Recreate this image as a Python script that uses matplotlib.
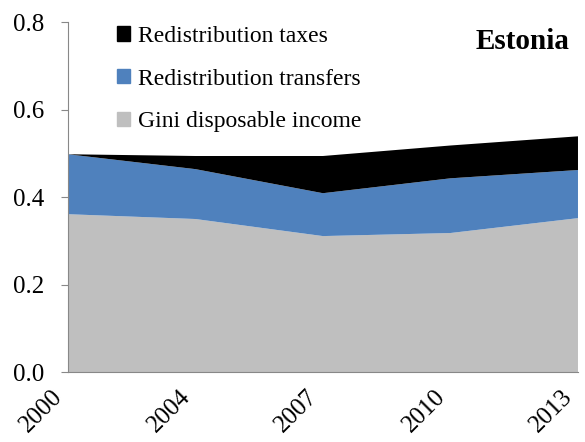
import numpy as np
import matplotlib
matplotlib.use('Agg')
import matplotlib.pyplot as plt
import matplotlib.transforms as mtransforms
from matplotlib.patches import Patch

plt.rcParams['font.family'] = ['Liberation Serif', 'DejaVu Serif']

years = ['2000', '2004', '2007', '2010', '2013']
gini_disp = [0.361, 0.350, 0.311, 0.318, 0.352]
transfers = [0.137, 0.114, 0.098, 0.125, 0.110]
taxes = [0.000, 0.030, 0.085, 0.075, 0.077]

x = np.arange(len(years))
fig = plt.figure(figsize=(5.85, 4.42), dpi=100)
ax = fig.add_axes([0.116, 0.158, 0.872, 0.792])

ax.stackplot(x, gini_disp, transfers, taxes,
             colors=['#bfbfbf', '#4f81bd', '#000000'], linewidth=0)

ax.set_xlim(0, len(years) - 1)
ax.set_ylim(0, 0.8)
ax.set_yticks([0.0, 0.2, 0.4, 0.6, 0.8])
ax.set_yticklabels(['0.0', '0.2', '0.4', '0.6', '0.8'], fontsize=18)
ax.set_xticks(x)
ax.set_xticklabels(years, fontsize=18, rotation=45, ha='right', rotation_mode='anchor')
ax.tick_params(axis='x', length=0, pad=10)
ax.tick_params(axis='y', length=5, color='#888888', pad=12)

# labels sit a bit left of the tick, like the original
shift = mtransforms.ScaledTranslation(-12 / 72, 0, fig.dpi_scale_trans)
for lab in ax.get_xticklabels():
    lab.set_transform(lab.get_transform() + shift)

for s in ['top', 'right']:
    ax.spines[s].set_visible(False)
for s in ['left', 'bottom']:
    ax.spines[s].set_color('#888888')

handles = [Patch(color='#000000'), Patch(color='#4f81bd'), Patch(color='#bfbfbf')]
labels = ['Redistribution taxes', 'Redistribution transfers', 'Gini disposable income']
ax.legend(handles, labels, loc='upper left', bbox_to_anchor=(0.055, 1.05), frameon=False,
          fontsize=17, handlelength=0.55, handleheight=0.55, handletextpad=0.35,
          labelspacing=0.92)

ax.text(0.984, 0.946, 'Estonia', transform=ax.transAxes, ha='right', va='center',
        fontsize=21, fontweight='bold')

fig.savefig('out.png', dpi=100)
